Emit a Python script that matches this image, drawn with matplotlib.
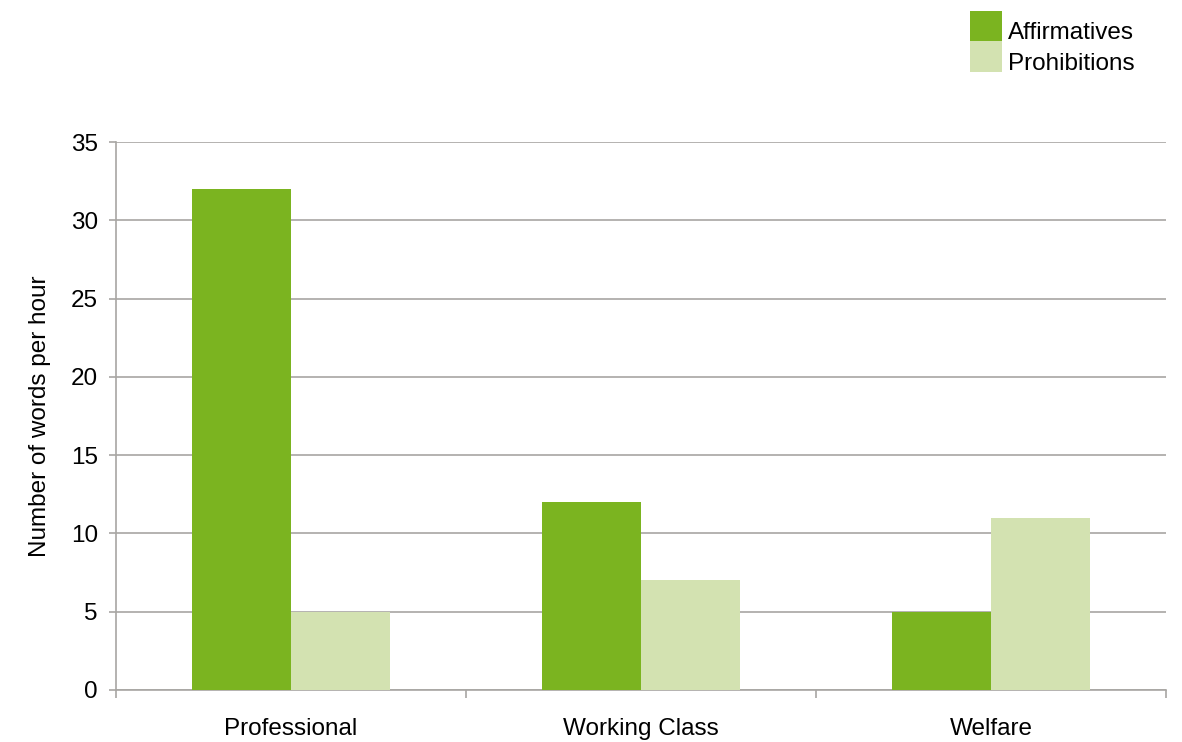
import numpy as np
import matplotlib.pyplot as plt
import matplotlib.transforms as mtransforms
from matplotlib.patches import Patch

categories = ['Professional', 'Working Class', 'Welfare']
affirmatives = [32, 12, 5]
prohibitions = [5, 7, 11]
y_ticks = [0, 5, 10, 15, 20, 25, 30, 35]

plt.rcParams['font.family'] = ['Liberation Sans', 'DejaVu Sans']

green = '#7BB420'
light = '#D3E2B1'
grid_col = '#A8A6A3'

fig = plt.figure(figsize=(11.82, 7.42), dpi=100)
ax = fig.add_axes([0.0981, 0.0701, 0.8884, 0.7385])

x = np.arange(len(categories))
w = 0.283
ax.bar(x - w / 2, affirmatives, w, color=green, zorder=3)
ax.bar(x + w / 2, prohibitions, w, color=light, zorder=3)

ax.set_xlim(-0.5, len(categories) - 0.5)
ax.set_ylim(0, 35)
ax.set_yticks(y_ticks)
ax.set_xticks(x)
ax.set_xticklabels(categories)
ax.set_xticks(np.arange(len(categories) + 1) - 0.5, minor=True)
ax.tick_params(axis='x', which='major', length=0, pad=20, labelsize=17.5)
ax.tick_params(axis='x', which='minor', length=6, color=grid_col, width=1.2)
ax.tick_params(axis='y', length=5, color=grid_col, width=1.2, labelsize=17.5, pad=8)

ax.yaxis.grid(True, color=grid_col, linewidth=1.2, zorder=0)
for s in ['top', 'right']:
    ax.spines[s].set_visible(False)
for s in ['left', 'bottom']:
    ax.spines[s].set_color(grid_col)
    ax.spines[s].set_linewidth(1.2)

ax.set_ylabel('Number of words per hour', fontsize=17.5, labelpad=14)

handles = [Patch(facecolor=green), Patch(facecolor=light)]
leg = fig.legend(handles, ['Affirmatives', 'Prohibitions'], loc='upper left',
                 bbox_to_anchor=(970 / 1182, 1 - 11 / 742), frameon=False, fontsize=17.5,
                 handlelength=1.3, handleheight=1.55, handletextpad=0.25,
                 labelspacing=0.0, borderaxespad=0.0, borderpad=0.0)
# nudge legend labels down so they sit on the bottom of each swatch
shift = mtransforms.ScaledTranslation(0, -0.05, fig.dpi_scale_trans)
for t in leg.get_texts():
    t.set_transform(t.get_transform() + shift)

fig.savefig('out.png', dpi=100)
